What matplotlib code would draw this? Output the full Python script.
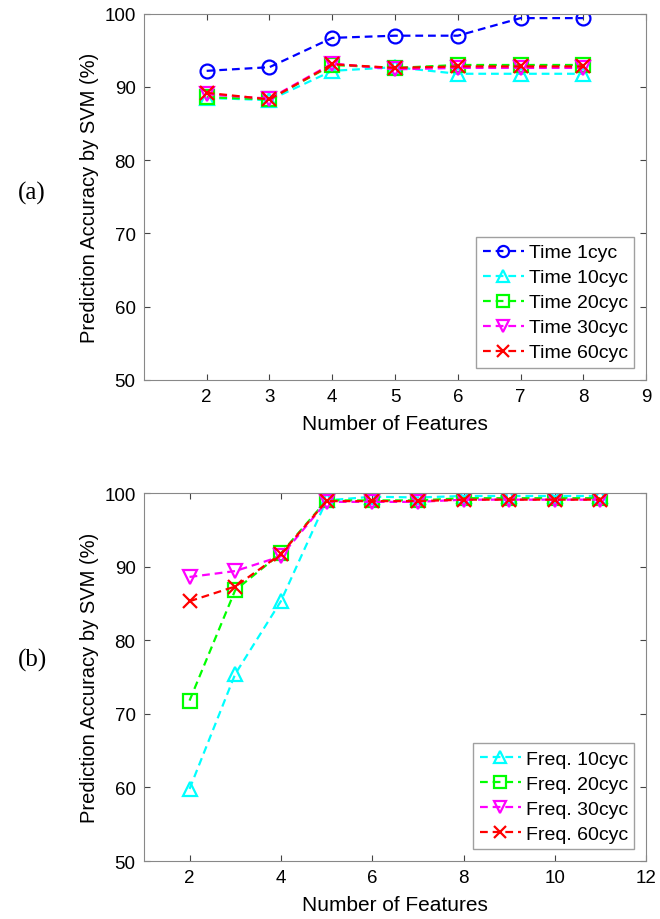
import matplotlib
matplotlib.use('Agg')
import matplotlib.pyplot as plt

plt.rcParams['font.family'] = ['Liberation Sans', 'DejaVu Sans']

# (a) time-domain features
x_a = [2, 3, 4, 5, 6, 7, 8]
time_1cyc = [92.2, 92.7, 96.7, 97.0, 97.0, 99.4, 99.4]
time_10cyc = [88.5, 88.2, 92.2, 92.7, 91.8, 91.8, 91.8]
time_20cyc = [88.6, 88.3, 93.0, 92.6, 93.0, 93.0, 93.0]
time_30cyc = [89.0, 88.4, 93.2, 92.4, 92.6, 92.6, 92.6]
time_60cyc = [89.2, 88.3, 93.1, 92.6, 92.8, 92.8, 92.8]

# (b) frequency-domain features
x_b = [2, 3, 4, 5, 6, 7, 8, 9, 10, 11]
freq_10cyc = [59.8, 75.4, 85.3, 99.0, 99.5, 99.4, 99.6, 99.6, 99.6, 99.6]
freq_20cyc = [71.8, 86.8, 91.8, 99.0, 99.0, 99.0, 99.3, 99.3, 99.3, 99.3]
freq_30cyc = [88.6, 89.4, 91.4, 98.8, 98.8, 98.8, 99.1, 99.1, 99.1, 99.1]
freq_60cyc = [85.3, 87.3, 91.7, 98.9, 98.9, 98.9, 99.1, 99.1, 99.1, 99.1]

fig = plt.figure(figsize=(6.6, 9.2), dpi=100)
ax1 = fig.add_axes([0.218, 0.586, 0.761, 0.398])
ax2 = fig.add_axes([0.218, 0.063, 0.761, 0.400])

style = dict(linestyle=(0, (3.5, 2.2)), linewidth=1.6, markersize=10,
             markerfacecolor='none', markeredgewidth=1.6)

ax1.plot(x_a, time_1cyc, color='blue', marker='o', label='Time 1cyc', **style)
ax1.plot(x_a, time_10cyc, color='cyan', marker='^', label='Time 10cyc', **style)
ax1.plot(x_a, time_20cyc, color='lime', marker='s', label='Time 20cyc', **style)
ax1.plot(x_a, time_30cyc, color='magenta', marker='v', label='Time 30cyc', **style)
ax1.plot(x_a, time_60cyc, color='red', marker='x', label='Time 60cyc', **style)

ax2.plot(x_b, freq_10cyc, color='cyan', marker='^', label='Freq. 10cyc', **style)
ax2.plot(x_b, freq_20cyc, color='lime', marker='s', label='Freq. 20cyc', **style)
ax2.plot(x_b, freq_30cyc, color='magenta', marker='v', label='Freq. 30cyc', **style)
ax2.plot(x_b, freq_60cyc, color='red', marker='x', label='Freq. 60cyc', **style)

ax1.set_xlim(1, 9)
ax1.set_xticks([2, 3, 4, 5, 6, 7, 8, 9])
ax2.set_xlim(1, 12)
ax2.set_xticks([2, 4, 6, 8, 10, 12])

for ax in (ax1, ax2):
    ax.set_ylim(50, 100)
    ax.set_yticks([50, 60, 70, 80, 90, 100])
    ax.tick_params(direction='in', top=True, right=True, labelsize=13.5, length=4,
                   pad=6, color='#444444')
    for s in ax.spines.values():
        s.set_color('#888888')
    ax.set_xlabel('Number of Features', fontsize=15, labelpad=6)
    ax.set_ylabel('Prediction Accuracy by SVM (%)', fontsize=14.5, labelpad=4)
    leg = ax.legend(loc='lower right', fontsize=14, handlelength=2.1,
                    fancybox=False, borderpad=0.35, labelspacing=0.38,
                    handletextpad=0.25, borderaxespad=0.6, markerscale=0.8)
    leg.get_frame().set_edgecolor('#888888')
    leg.get_frame().set_linewidth(1.0)

fig.text(0.027, 0.79, '(a)', fontsize=18, family='Liberation Serif', va='center')
fig.text(0.027, 0.282, '(b)', fontsize=18, family='Liberation Serif', va='center')

fig.savefig('out.png', dpi=100)
